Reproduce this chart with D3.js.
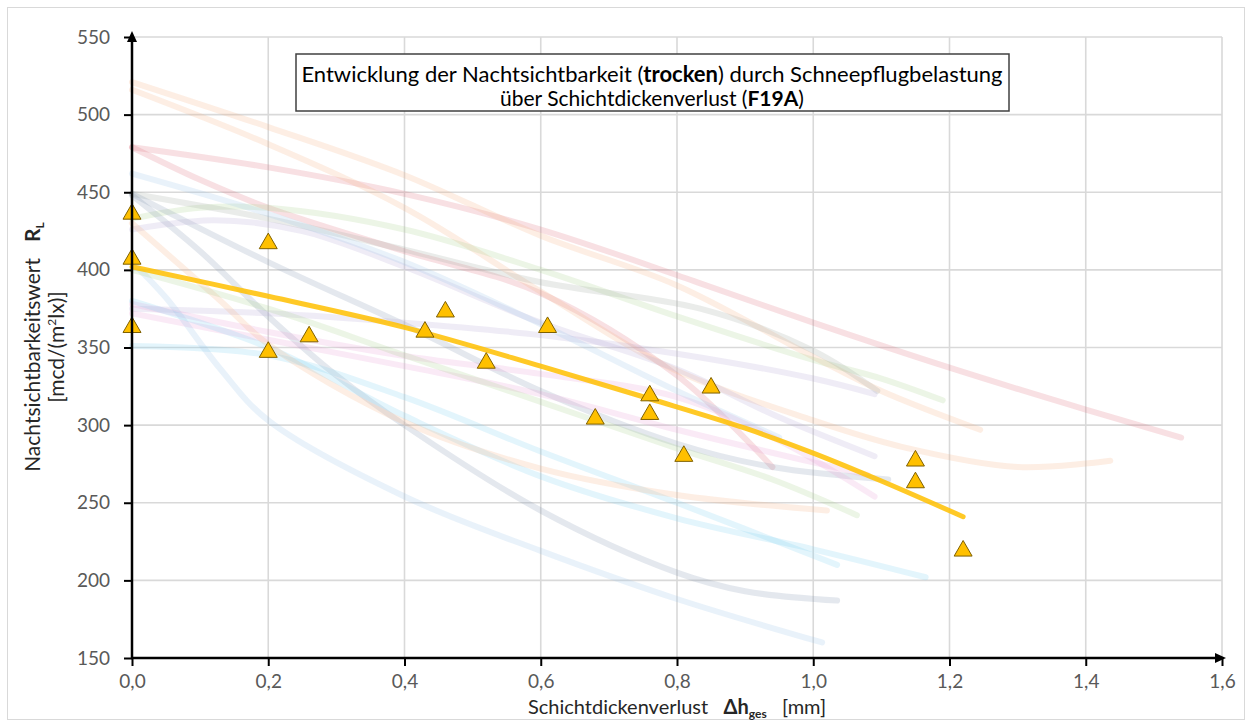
<!DOCTYPE html>
<html>
<head>
<meta charset="utf-8">
<script src="https://cdn.jsdelivr.net/npm/d3@7/dist/d3.min.js"></script>
<style>
  html, body { margin: 0; padding: 0; background: #fff; }
  svg { display: block; }
</style>
</head>
<body>
<svg id="chart" width="1251" height="722"></svg>
<script>
// ---------------- DATA ----------------
const xTickValues = [0, 0.2, 0.4, 0.6, 0.8, 1.0, 1.2, 1.4, 1.6];
const xTickLabels = ["0,0", "0,2", "0,4", "0,6", "0,8", "1,0", "1,2", "1,4", "1,6"];
const yTickValues = [150, 200, 250, 300, 350, 400, 450, 500, 550];
const yTickLabels = ["150", "200", "250", "300", "350", "400", "450", "500", "550"];

// measured points (triangles)
const pointX = [0, 0, 0, 0.2, 0.2, 0.26, 0.43, 0.46, 0.52, 0.61, 0.68, 0.76, 0.76, 0.81, 0.85, 1.15, 1.15, 1.22];
const pointY = [436, 407, 363, 417, 347, 357, 360, 373, 340, 363, 304, 319, 307, 280, 324, 277, 263, 219];

// trend line (yellow)
const trendX = [0, 0.2, 0.4, 0.6, 0.76, 0.9, 1.0, 1.1, 1.22];
const trendY = [402, 383, 363, 338, 317, 298, 282, 264, 241];

// faded background curves (other samples)
const ghostSeries = [
  [[0,479],[0.2,466],[0.4,449],[0.6,426],[0.83,392],[1.0,366],[1.2,337],[1.4,310],[1.54,292]],
  [[0,479],[0.1,458],[0.2,440],[0.4,412],[0.6,385],[0.8,332],[0.94,273]],
  [[0,521],[0.2,492],[0.4,461],[0.6,422],[0.8,390],[1.0,344],[1.1,322],[1.245,297]],
  [[0,516],[0.2,481],[0.4,440],[0.6,386],[0.79,337],[1.0,303],[1.13,286],[1.3,273],[1.436,277]],
  [[0,433],[0.1,440],[0.2,440],[0.4,426],[0.6,400],[0.8,370],[1.0,342],[1.1,330],[1.19,316]],
  [[0,448],[0.1,412],[0.2,370],[0.3,332],[0.4,300],[0.6,245],[0.8,205],[0.9,193],[1.035,187]],
  [[0,449],[0.2,433],[0.4,413],[0.6,392],[0.834,375],[1.0,348],[1.094,322]],
  [[0,449],[0.2,405],[0.408,363],[0.6,322],[0.8,288],[0.94,273],[1.11,265]],
  [[0,426],[0.12,432],[0.25,425],[0.4,402],[0.6,366],[0.8,336],[0.95,305],[1.09,280]],
  [[0,375],[0.2,372],[0.4,366],[0.6,358],[0.8,346],[1.0,330],[1.09,320]],
  [[0,378],[0.2,360],[0.408,344],[0.6,333],[0.8,318],[0.95,290],[1.09,254]],
  [[0,372],[0.2,355],[0.4,338],[0.6,320],[0.8,297],[1.0,276],[1.08,268]],
  [[0,351],[0.2,345],[0.4,318],[0.6,283],[0.8,250],[1.035,210]],
  [[0,380],[0.2,350],[0.4,306],[0.6,267],[0.8,240],[1.0,220],[1.165,202]],
  [[0,405],[0.05,382],[0.13,336],[0.2,303],[0.4,254],[0.6,219],[0.8,188],[1.013,160]],
  [[0,430],[0.13,380],[0.2,352],[0.4,302],[0.6,272],[0.8,255],[1.02,245]],
  [[0,400],[0.2,375],[0.4,345],[0.6,315],[0.8,285],[0.94,265],[1.064,242]],
  [[0,462],[0.2,436],[0.4,405],[0.6,365],[0.8,322],[0.95,292]]
];
const ghostColors = [
  "#E0707E", "#E0707E", "#F4B183", "#F4B183", "#A9D18E", "#8497B0",
  "#A0A8A0", "#8497B0", "#B4A7D6", "#B4A7D6", "#E6A0D8", "#E6A0D8",
  "#7FD3F0", "#7FD3F0", "#9DC3E6", "#F4B183", "#A9D18E", "#9DC3E6"
];

// ---------------- LAYOUT ----------------
const FONT = "Lato, 'Open Sans', sans-serif";
const NB = "\u00A0";
const svg = d3.select("#chart");
const x = d3.scaleLinear().domain([0, 1.6]).range([132, 1222]);
const y = d3.scaleLinear().domain([150, 550]).range([658, 37]);

// outer border
svg.append("rect").attr("x", 7.5).attr("y", 7.5).attr("width", 1237).attr("height", 712)
  .attr("fill", "#fff").attr("stroke", "#d9d9d9").attr("stroke-width", 1);

// gridlines
const grid = svg.append("g").attr("stroke", "#d9d9d9").attr("stroke-width", 1.6);
yTickValues.forEach(v => {
  grid.append("line").attr("x1", x(0)).attr("x2", x(1.6)).attr("y1", y(v)).attr("y2", y(v));
});
xTickValues.forEach(v => {
  if (v === 0) return;
  grid.append("line").attr("x1", x(v)).attr("x2", x(v)).attr("y1", y(150)).attr("y2", y(550));
});

// ghost curves
const line = d3.line().x(d => x(d[0])).y(d => y(d[1])).curve(d3.curveCatmullRom.alpha(0.5));
svg.append("g").selectAll("path").data(ghostSeries).join("path")
  .attr("d", d => line(d))
  .attr("fill", "none")
  .attr("stroke", (d, i) => ghostColors[i])
  .attr("stroke-opacity", 0.22)
  .attr("stroke-width", 6)
  .attr("stroke-linecap", "round");

// trend line
const trendData = trendX.map((v, i) => [v, trendY[i]]);
svg.append("path").attr("d", line(trendData))
  .attr("fill", "none").attr("stroke", "#FFC000").attr("stroke-opacity", 0.85)
  .attr("stroke-width", 5).attr("stroke-linecap", "round");

// points
const tri = d3.symbol().type(d3.symbolTriangle).size(140);
svg.append("g").selectAll("path").data(pointX.map((v, i) => [v, pointY[i]])).join("path")
  .attr("d", tri)
  .attr("transform", d => `translate(${x(d[0])},${y(d[1])})`)
  .attr("fill", "#FFC000").attr("stroke", "#7F6000").attr("stroke-width", 1);

// axes
const fmtX = d => xTickLabels[xTickValues.indexOf(d)];
const fmtY = d => yTickLabels[yTickValues.indexOf(d)];
const gx = svg.append("g").attr("transform", `translate(0,${y(150)})`)
  .call(d3.axisBottom(x).tickValues(xTickValues).tickFormat(fmtX).tickSize(8).tickPadding(9));
const gy = svg.append("g").attr("transform", `translate(${x(0)},0)`)
  .call(d3.axisLeft(y).tickValues(yTickValues).tickFormat(fmtY).tickSize(8).tickPadding(14));
[gx, gy].forEach(g => {
  g.select(".domain").remove();
  g.selectAll(".tick line").attr("stroke", "#000").attr("stroke-width", 2);
  g.selectAll(".tick text").attr("fill", "#595959").style("font-family", FONT).style("font-size", "19px");
});

// axis lines with arrows
svg.append("line").attr("x1", x(0)).attr("x2", x(0)).attr("y1", y(150) + 1).attr("y2", 40)
  .attr("stroke", "#000").attr("stroke-width", 2.5);
svg.append("path").attr("d", `M${x(0)},31 L${x(0) - 5},42 L${x(0) + 5},42 Z`).attr("fill", "#000");
svg.append("line").attr("x1", x(0) - 1).attr("x2", 1216).attr("y1", y(150)).attr("y2", y(150))
  .attr("stroke", "#000").attr("stroke-width", 2.5);
svg.append("path").attr("d", `M1226,${y(150)} L1215,${y(150) - 5} L1215,${y(150) + 5} Z`).attr("fill", "#000");

// title box
const tb = svg.append("g");
tb.append("rect").attr("x", 296).attr("y", 54).attr("width", 713).attr("height", 57)
  .attr("fill", "#fff").attr("stroke", "#404040").attr("stroke-width", 1.5);
const t1 = tb.append("text").attr("x", 652).attr("y", 82).attr("text-anchor", "middle")
  .style("font-family", FONT).style("font-size", "22px").attr("fill", "#000");
t1.append("tspan").text("Entwicklung der Nachtsichtbarkeit (");
t1.append("tspan").attr("font-weight", "bold").text("trocken");
t1.append("tspan").text(") durch Schneepflugbelastung");
const t2 = tb.append("text").attr("x", 652).attr("y", 106).attr("text-anchor", "middle")
  .style("font-family", FONT).style("font-size", "21px").attr("fill", "#000");
t2.append("tspan").text("über Schichtdickenverlust (");
t2.append("tspan").attr("font-weight", "bold").text("F19A");
t2.append("tspan").text(")");

// y axis title
const yt = svg.append("g").attr("transform", "translate(44,347) rotate(-90)");
const yl1 = yt.append("text").attr("x", 0).attr("y", -4).attr("text-anchor", "middle")
  .style("font-family", FONT).style("font-size", "21px").attr("fill", "#262626");
yl1.append("tspan").text("Nachtsichtbarkeitswert" + NB + NB + NB);
yl1.append("tspan").attr("font-weight", "bold").text("R");
yl1.append("tspan").attr("font-weight", "bold").attr("font-size", "12px").attr("dy", 4).text("L");
const yl2 = yt.append("text").attr("x", 0).attr("y", 20).attr("text-anchor", "middle")
  .style("font-family", FONT).style("font-size", "21px").attr("fill", "#262626");
yl2.append("tspan").text("[mcd/(m");
yl2.append("tspan").attr("font-size", "12px").attr("dy", -8).text("2");
yl2.append("tspan").attr("dy", 8).text("lx)]");

// x axis title
const xt = svg.append("text").attr("x", 677).attr("y", 714).attr("text-anchor", "middle")
  .style("font-family", FONT).style("font-size", "20px").attr("fill", "#262626");
xt.append("tspan").text("Schichtdickenverlust" + NB + NB + NB);
xt.append("tspan").attr("font-weight", "bold").text("Δh");
xt.append("tspan").attr("font-weight", "bold").attr("font-size", "12px").attr("dy", 4).text("ges");
xt.append("tspan").attr("dy", -4).text(NB + NB + NB + "[mm]");
</script>
</body>
</html>
